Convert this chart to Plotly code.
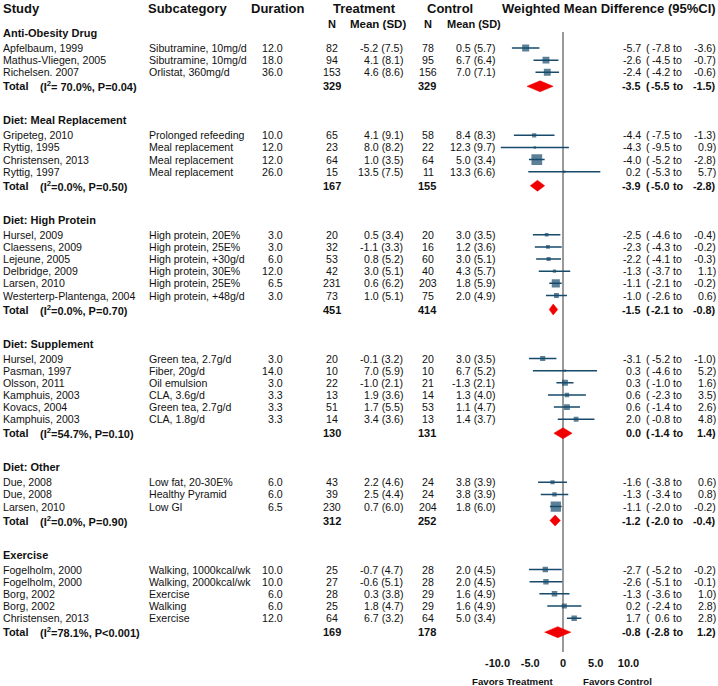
import plotly.graph_objects as go

# ---------------- data ----------------
groups = ["Anti-Obesity Drug", "Diet: Meal Replacement", "Diet: High Protein",
          "Diet: Supplement", "Diet: Other", "Exercise"]

studies = [
    ["Apfelbaum, 1999", "Mathus-Vliegen, 2005", "Richelsen. 2007"],
    ["Gripeteg, 2010", "Ryttig, 1995", "Christensen, 2013", "Ryttig, 1997"],
    ["Hursel, 2009", "Claessens, 2009", "Lejeune, 2005", "Delbridge, 2009", "Larsen, 2010",
     "Westerterp-Plantenga, 2004"],
    ["Hursel, 2009", "Pasman, 1997", "Olsson, 2011", "Kamphuis, 2003", "Kovacs, 2004", "Kamphuis, 2003"],
    ["Due, 2008", "Due, 2008", "Larsen, 2010"],
    ["Fogelholm, 2000", "Fogelholm, 2000", "Borg, 2002", "Borg, 2002", "Christensen, 2013"],
]
subcategories = [
    ["Sibutramine, 10mg/d", "Sibutramine, 10mg/d", "Orlistat, 360mg/d"],
    ["Prolonged refeeding", "Meal replacement", "Meal replacement", "Meal replacement"],
    ["High protein, 20E%", "High protein, 25E%", "High protein, +30g/d", "High protein, 30E%",
     "High protein, 25E%", "High protein, +48g/d"],
    ["Green tea, 2.7g/d", "Fiber, 20g/d", "Oil emulsion", "CLA, 3.6g/d", "Green tea, 2.7g/d", "CLA, 1.8g/d"],
    ["Low fat, 20-30E%", "Healthy Pyramid", "Low GI"],
    ["Walking, 1000kcal/wk", "Walking, 2000kcal/wk", "Exercise", "Walking", "Exercise"],
]
durations = [
    [12.0, 18.0, 36.0],
    [10.0, 12.0, 12.0, 26.0],
    [3.0, 3.0, 6.0, 12.0, 6.5, 3.0],
    [3.0, 14.0, 3.0, 3.3, 3.3, 3.3],
    [6.0, 6.0, 6.5],
    [10.0, 10.0, 6.0, 6.0, 12.0],
]
n_treat = [[82, 94, 153], [65, 23, 64, 15], [20, 32, 53, 42, 231, 73],
           [20, 10, 22, 13, 51, 14], [43, 39, 230], [25, 27, 28, 25, 64]]
mean_treat = [[-5.2, 4.1, 4.6], [4.1, 8.0, 1.0, 13.5], [0.5, -1.1, 0.8, 3.0, 0.6, 1.0],
              [-0.1, 7.0, -1.0, 1.9, 1.7, 3.4], [2.2, 2.5, 0.7], [-0.7, -0.6, 0.3, 1.8, 6.7]]
sd_treat = [[7.5, 8.1, 8.6], [9.1, 8.2, 3.5, 7.5], [3.4, 3.3, 5.2, 5.1, 6.2, 5.1],
            [3.2, 5.9, 2.1, 3.6, 5.5, 3.6], [4.6, 4.4, 6.0], [4.7, 5.1, 3.8, 4.7, 3.2]]
n_ctrl = [[78, 95, 156], [58, 22, 64, 11], [20, 16, 60, 40, 203, 75],
          [20, 10, 21, 14, 53, 13], [24, 24, 204], [28, 28, 29, 29, 64]]
mean_ctrl = [[0.5, 6.7, 7.0], [8.4, 12.3, 5.0, 13.3], [3.0, 1.2, 3.0, 4.3, 1.8, 2.0],
             [3.0, 6.7, -1.3, 1.3, 1.1, 1.4], [3.8, 3.8, 1.8], [2.0, 2.0, 1.6, 1.6, 5.0]]
sd_ctrl = [[5.7, 6.4, 7.1], [8.3, 9.7, 3.4, 6.6], [3.5, 3.6, 5.1, 5.7, 5.9, 4.9],
           [3.5, 5.2, 2.1, 4.0, 4.7, 3.7], [3.9, 3.9, 6.0], [4.5, 4.5, 4.9, 4.9, 3.4]]
wmd = [[-5.7, -2.6, -2.4], [-4.4, -4.3, -4.0, 0.2], [-2.5, -2.3, -2.2, -1.3, -1.1, -1.0],
       [-3.1, 0.3, 0.3, 0.6, 0.6, 2.0], [-1.6, -1.3, -1.1], [-2.7, -2.6, -1.3, 0.2, 1.7]]
ci_low = [[-7.8, -4.5, -4.2], [-7.5, -9.5, -5.2, -5.3], [-4.6, -4.3, -4.1, -3.7, -2.1, -2.6],
          [-5.2, -4.6, -1.0, -2.3, -1.4, -0.8], [-3.8, -3.4, -2.0], [-5.2, -5.1, -3.6, -2.4, 0.6]]
ci_high = [[-3.6, -0.7, -0.6], [-1.3, 0.9, -2.8, 5.7], [-0.4, -0.2, -0.3, 1.1, -0.2, 0.6],
           [-1.0, 5.2, 1.6, 3.5, 2.6, 4.8], [0.6, 0.8, -0.2], [-0.2, -0.1, 1.0, 2.8, 2.8]]
# estimated study weights within each subgroup (%)
weights = [[34, 33, 33], [12, 4, 80, 4], [9.4, 9.9, 11.5, 7.2, 45.9, 16.2],
           [18, 4, 24, 14, 24, 16], [12.4, 13.6, 74], [20, 20, 21, 18, 21]]

total_het = ["(I<sup>2</sup>= 70.0%, P=0.04)", "(I<sup>2</sup>=0.0%, P=0.50)", "(I<sup>2</sup>=0.0%, P=0.70)",
             "(I<sup>2</sup>=54.7%, P=0.10)", "(I<sup>2</sup>=0.0%, P=0.90)", "(I<sup>2</sup>=78.1%, P<0.001)"]
total_n_treat = [329, 167, 451, 130, 312, 169]
total_n_ctrl = [329, 155, 414, 131, 252, 178]
total_wmd = [-3.5, -3.9, -1.5, 0.0, -1.2, -0.8]
total_low = [-5.5, -5.0, -2.1, -1.4, -2.0, -2.8]
total_high = [-1.5, -2.8, -0.8, 1.4, -0.4, 1.2]

x_ticks = [-10, -5, 0, 5, 10]
x_tick_labels = ["-10.0", "-5.0", "0", "5.0", "10.0"]

# ---------------- layout constants ----------------
W, H = 718, 686
PLOT_H = 655
FONT = "Liberation Sans, Arial, sans-serif"
BLUE = "#174a6b"
RED = "#f00000"
TXT = "#111111"
ZERO_PX = 563.0
PX_PER_UNIT = 6.55
XR = 12.0
x_dom = [(ZERO_PX - XR * PX_PER_UNIT) / W, (ZERO_PX + XR * PX_PER_UNIT) / W]

STEP = 12.15
HEAD_GAP = 15.0
TOTAL_GAP = 14.0
GROUP_GAP = 34.0

annotations = []


def txt(px, py, s, anchor="left", size=10.6, bold=False, yref="y"):
    if bold:
        s = "<b>" + s + "</b>"
    y = py if yref == "y" else 1 - py / PLOT_H
    annotations.append(dict(
        x=px / W, y=y, xref="paper", yref=yref, text=s, showarrow=False,
        xanchor=anchor, yanchor="middle", borderpad=0, borderwidth=0,
        font=dict(family=FONT, size=size, color=TXT)))


# headers
txt(3, 8, "Study", size=13, bold=True)
txt(148, 8, "Subcategory", size=13, bold=True)
txt(251, 8, "Duration", size=13, bold=True)
txt(333, 8, "Treatment", size=13, bold=True)
txt(427, 8, "Control", size=13, bold=True)
txt(609, 8, "Weighted Mean Difference (95%CI)", anchor="center", size=13, bold=True)
txt(332, 24, "N", anchor="center", size=11, bold=True)
txt(350, 24, "Mean (SD)", size=11.5, bold=True)
txt(428, 24, "N", anchor="center", size=11, bold=True)
txt(447, 24, "Mean (SD)", size=11, bold=True)

COL = dict(study=3, sub=149, dur=283, nt=332, mt=403, nc=428, mc=495,
           est=641, par=645.5, lo=669.5, to=672.5, hi=716)


def wmd_text(py, e, lo, hi, bold=False, size=10.6):
    txt(COL["est"], py, f"{e:.1f}", anchor="right", bold=bold, size=size)
    txt(COL["par"], py, "(", anchor="left", bold=bold, size=size)
    txt(COL["lo"], py, f"{lo:.1f}", anchor="right", bold=bold, size=size)
    txt(COL["to"], py, "to", anchor="left", bold=bold, size=size)
    txt(COL["hi"], py, f"{hi:.1f})", anchor="right", bold=bold, size=size)


sq_x, sq_y, sq_s = [], [], []
ln_x, ln_y = [], []
dm_x, dm_y = [], []

y = 33.0
for g in range(len(groups)):
    txt(3, y, groups[g], size=11, bold=True)
    y += HEAD_GAP
    for i in range(len(studies[g])):
        txt(COL["study"], y, studies[g][i])
        txt(COL["sub"], y, subcategories[g][i])
        txt(COL["dur"], y, f"{durations[g][i]:.1f}", anchor="right")
        txt(COL["nt"], y, str(n_treat[g][i]), anchor="center")
        txt(COL["mt"], y, f"{mean_treat[g][i]:.1f} ({sd_treat[g][i]:.1f})", anchor="right")
        txt(COL["nc"], y, str(n_ctrl[g][i]), anchor="center")
        txt(COL["mc"], y, f"{mean_ctrl[g][i]:.1f} ({sd_ctrl[g][i]:.1f})", anchor="right")
        wmd_text(y, wmd[g][i], ci_low[g][i], ci_high[g][i])
        ln_x += [ci_low[g][i], ci_high[g][i], None]
        ln_y += [y, y, None]
        sq_x.append(wmd[g][i])
        sq_y.append(y)
        sq_s.append(1.2 * weights[g][i] ** 0.5)
        y += STEP
    y += TOTAL_GAP - STEP
    txt(3, y, "Total", size=11, bold=True)
    txt(40, y, total_het[g], size=11, bold=True)
    txt(COL["nt"], y, str(total_n_treat[g]), anchor="center", size=11, bold=True)
    txt(COL["nc"] - 1, y, str(total_n_ctrl[g]), anchor="center", size=11, bold=True)
    wmd_text(y, total_wmd[g], total_low[g], total_high[g], bold=True, size=10.8)
    h = 5.5
    dm_x += [total_low[g], total_wmd[g], total_high[g], total_wmd[g], total_low[g], None]
    dm_y += [y, y - h, y, y + h, y, None]
    y += GROUP_GAP

# favors labels below the axis
txt(513, 681, "Favors Treatment", anchor="center", size=9.7, bold=True, yref="paper")
txt(617, 681, "Favors Control", anchor="center", size=9.7, bold=True, yref="paper")

fig = go.Figure()
fig.add_trace(go.Scatter(x=ln_x, y=ln_y, mode="lines", line=dict(color=BLUE, width=1.5),
                         hoverinfo="skip", showlegend=False))
fig.add_trace(go.Scatter(x=sq_x, y=sq_y, mode="markers",
                         marker=dict(symbol="square", size=sq_s, color=BLUE, line=dict(width=0)),
                         showlegend=False))
fig.add_trace(go.Scatter(x=dm_x, y=dm_y, mode="lines", fill="toself", fillcolor=RED,
                         line=dict(color=RED, width=0.5), hoverinfo="skip", showlegend=False))

fig.add_shape(type="line", xref="x", yref="y", x0=0, x1=0, y0=32, y1=652,
              line=dict(color="#808080", width=1.6), layer="below")

fig.update_layout(
    width=W, height=H, margin=dict(l=0, r=0, t=0, b=H - PLOT_H),
    paper_bgcolor="white", plot_bgcolor="white",
    xaxis=dict(domain=x_dom, range=[-XR, XR], showgrid=False, zeroline=False, showline=False,
               tickvals=x_ticks, ticktext=["<b>" + t + "</b>" for t in x_tick_labels],
               tickfont=dict(family=FONT, size=11, color=TXT), ticks="", fixedrange=True),
    yaxis=dict(range=[PLOT_H, 0], visible=False, fixedrange=True),
    annotations=annotations,
    showlegend=False,
)

fig.write_html("out.html", config={"displayModeBar": False},
               post_script="document.body.style.margin='0';document.body.style.padding='0';")
